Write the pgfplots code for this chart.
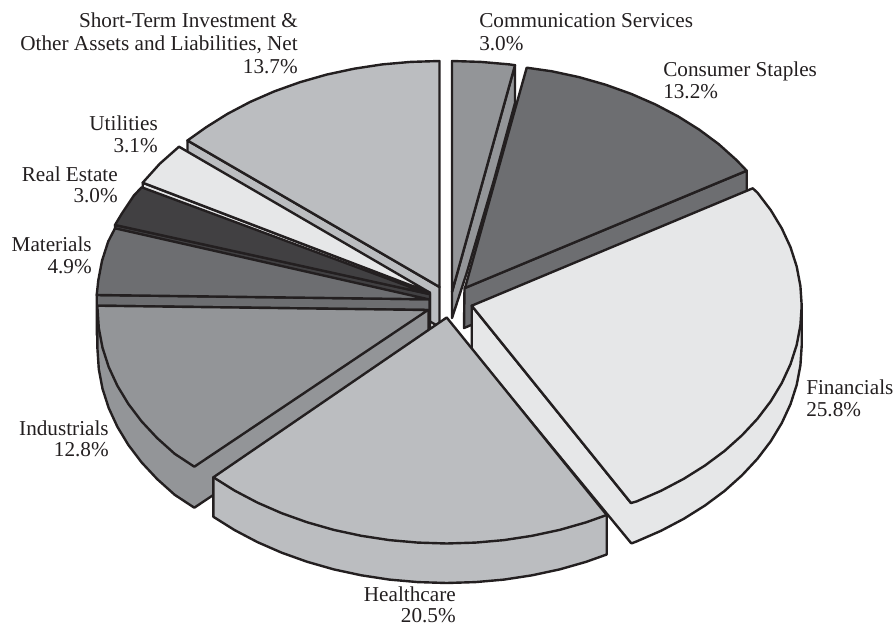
\documentclass[border=0pt]{standalone}
\usepackage{pgfplots}
\pgfplotsset{compat=1.18}
\usepackage{fontspec}
\setmainfont{Liberation Serif}
\definecolor{ln}{HTML}{231F20}
\definecolor{cA}{HTML}{939598}
\definecolor{cB}{HTML}{6D6E71}
\definecolor{cC}{HTML}{E6E7E8}
\definecolor{cD}{HTML}{BBBDC0}
\definecolor{cE}{HTML}{414042}
\pgfplotsset{sl/.style={draw=ln,line width=1.8pt,line join=round,fill=#1,mark=none}}
\newcommand{\lbR}[3]{\node[anchor=base east,inner sep=0pt,text=ln] at (axis cs:#1,#2) {#3};}
\newcommand{\lbL}[3]{\node[anchor=base west,inner sep=0pt,text=ln] at (axis cs:#1,#2) {#3};}
\begin{document}
\begin{tikzpicture}
\useasboundingbox (0,0) rectangle (672pt,468pt);
\begin{axis}[hide axis,scale only axis,width=672pt,height=468pt,xmin=0,xmax=896,ymin=0,ymax=624,y dir=reverse,clip=false,
  anchor=south west,at={(0,0)},font=\fontsize{15.9}{19}\selectfont]
% Short-Term Investment
\addplot[sl=cD] coordinates {(187.5,140.5)(187.5,180.5)(439.5,327)(439.5,287)} --cycle;
\addplot[sl=cD] coordinates {(439.5,287)(439.5,61)(410.7,61.9)(382.2,64.4)(354.1,68.7)(326.6,74.6)(300,82.2)(274.5,91.3)(250.2,101.9)(227.4,113.9)(206.2,127.2)(187.5,140.5)} --cycle;
% Communication Services
\addplot[sl=cA] coordinates {(515,65.2)(515,103)(494,180)(467,272)(452,318)(452,292)} --cycle;
\addplot[sl=cA] coordinates {(452,292)(452,61)(480.8,61.9)(509.3,64.4)(515,65.2)} --cycle;
% Consumer Staples
\addplot[sl=cB] coordinates {(464.5,288)(746.7,170.7)(746.7,211)(464,328)} --cycle;
\addplot[sl=cB] coordinates {(465,288)(526.7,67.7)(551.4,71.2)(578.9,77.1)(605.5,84.7)(631,93.8)(655.3,104.4)(678.1,116.4)(699.3,129.7)(718.8,144.2)(736.3,159.9)(746.7,170.7)} --cycle;
% Utilities
\addplot[sl=cC] coordinates {(142.7,182.7)(142.7,222.7)(430,332.7)(430,292.7)} --cycle;
\addplot[sl=cC] coordinates {(430,292.7)(179,146.7)(159.7,163.8)(142.7,182.7)} --cycle;
% Real Estate
\addplot[sl=cE] coordinates {(115,225)(115,265)(430,334)(430,294)} --cycle;
\addplot[sl=cE] coordinates {(429,294)(141.7,187.3)(134,195.4)(122,213.3)(115,225)} --cycle;
% Materials
\addplot[sl=cB] coordinates {(96.7,295)(96.7,335)(429.5,340)(429.5,299.3)} --cycle;
\addplot[sl=cB] coordinates {(428.5,299.3)(115,228.3)(108.2,241.5)(102,260.8)(98.3,280.3)(96.7,295)} --cycle;
% Industrials
\addplot[sl=cA] coordinates {(428.5,310)(428.5,351)(194.3,507.7)(174.7,494.8)(157.2,479.1)(141.7,462.5)(128.4,445)(117.4,426.8)(108.7,408)(102.5,388.7)(98.8,369.2)(97.3,346.7)(97.3,305.7)} --cycle;
\addplot[sl=cA] coordinates {(428,310)(97.3,305.7)(98.8,328.2)(102.5,347.7)(108.7,367)(117.4,385.8)(128.4,404)(141.7,421.5)(157.2,438.1)(174.7,453.8)(194.3,466.7)} --cycle;
% Financials
\addplot[sl=cC] coordinates {(471.7,305.7)(471.7,349.5)(631,543)(632,543.2)(636.7,541.4)(661,530.8)(683.8,518.8)(705,505.5)(724.5,491)(742,475.3)(757.5,458.7)(770.8,441.2)(781.8,423)(790.5,404.2)(796.7,384.9)(800.4,365.4)(801.7,345.7)(801.7,305.7)(631,503)} --cycle;
\addplot[sl=cC] coordinates {(471.7,305.7)(752.7,188.3)(757.5,192.7)(770.8,210.2)(781.8,228.4)(790.5,247.2)(796.7,266.5)(800.4,286)(801.7,305.7)(800.4,325.4)(796.7,344.9)(790.5,364.2)(781.8,383)(770.8,401.2)(757.5,418.7)(742,435.3)(724.5,451)(705,465.5)(683.8,478.8)(661,490.8)(636.7,501.4)(631,503)} --cycle;
% Healthcare
\addplot[sl=cD] coordinates {(606.7,515)(606.7,554.5)(586.2,561.8)(559.6,569.4)(532.1,575.3)(504,579.6)(475.5,582.1)(446.7,583)(417.9,582.1)(389.4,579.6)(361.3,575.3)(333.8,569.4)(307.2,561.8)(281.7,552.7)(257.4,542.1)(234.6,530.1)(213.4,516.8)(213.4,477.3)} --cycle;
\addplot[sl=cD] coordinates {(446.7,317.5)(606.7,515)(586.2,522.3)(559.6,529.9)(532.1,535.8)(504,540.1)(475.5,542.6)(446.7,543.5)(417.9,542.6)(389.4,540.1)(361.3,535.8)(333.8,529.9)(307.2,522.3)(281.7,513.2)(257.4,502.6)(234.6,490.6)(213.4,477.3)} --cycle;
% Labels
\lbR{298}{28}{Short-Term Investment \&}
\lbR{298}{51}{Other Assets and Liabilities, Net}
\lbR{298}{74}{13.7\%}
\lbL{479}{28}{Communication Services}
\lbL{479}{51}{3.0\%}
\lbL{663}{77}{Consumer Staples}
\lbL{663}{99}{13.2\%}
\lbL{806}{394}{Financials}
\lbL{806}{416}{25.8\%}
\lbR{456}{601.5}{Healthcare}
\lbR{456}{622.5}{20.5\%}
\lbR{109}{435}{Industrials}
\lbR{109}{456}{12.8\%}
\lbR{92}{251}{Materials}
\lbR{92}{273}{4.9\%}
\lbR{118}{181}{Real Estate}
\lbR{118}{203}{3.0\%}
\lbR{158}{131}{Utilities}
\lbR{158}{153}{3.1\%}
\end{axis}
\end{tikzpicture}
\end{document}
